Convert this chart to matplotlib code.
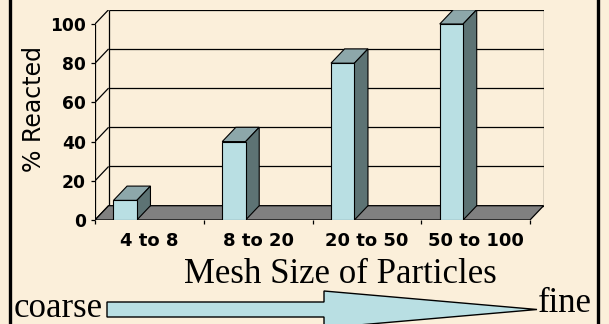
import matplotlib
matplotlib.use('Agg')
import matplotlib.pyplot as plt
from matplotlib.patches import Polygon

# particle size classes and how much of each reacted
categories = ['4 to 8', '8 to 20', '20 to 50', '50 to 100']
pct_reacted = [10, 40, 80, 100]
y_ticks = [0, 20, 40, 60, 80, 100]

BG = '#FBEFDA'
FRONT = '#B9DFE3'
TOP = '#8DA7AA'
SIDE = '#5D7374'
FLOOR = '#808080'

DX, DY = 0.125, 7.3        # depth of the fake 3D box (x in categories, y in %)
BAR_OFF, BAR_W = 0.17, 0.215
SERIF = 'Liberation Serif'


def draw_box(ax, n, ymax):
    """back wall, side wall grid and floor"""
    kw = dict(color='black', lw=0.9, zorder=1, solid_capstyle='butt')
    for v in y_ticks:
        ax.plot([DX, n + DX], [v + DY, v + DY], **kw)
        ax.plot([0, DX], [v, v + DY], **kw)
    ax.plot([DX, DX], [DY, ymax + DY], **kw)
    ax.plot([n + DX, n + DX], [DY, ymax + DY], **kw)
    ax.plot([0, 0], [0, ymax], **kw)
    floor = Polygon([(0, 0), (n, 0), (n + DX, DY), (DX, DY)], closed=True,
                    facecolor=FLOOR, edgecolor='black', lw=0.9, zorder=2)
    ax.add_patch(floor)


def draw_bars(ax, values):
    xs = [i + BAR_OFF for i in range(len(values))]
    for x0, v in zip(xs, values):
        x1 = x0 + BAR_W
        top = Polygon([(x0, v), (x1, v), (x1 + DX, v + DY), (x0 + DX, v + DY)],
                      closed=True, facecolor=TOP, edgecolor='black', lw=0.8, zorder=3)
        side = Polygon([(x1, 0), (x1 + DX, DY), (x1 + DX, v + DY), (x1, v)],
                       closed=True, facecolor=SIDE, edgecolor='black', lw=0.8, zorder=3)
        ax.add_patch(top)
        ax.add_patch(side)
    ax.bar(xs, values, width=BAR_W, align='edge', color=FRONT,
           edgecolor='black', lw=0.8, zorder=4)


fig = plt.figure(figsize=(6.09, 3.24), dpi=100)
fig.patch.set_facecolor(BG)

# pixel-space layer for the frame, arrow and side words
bg = fig.add_axes([0, 0, 1, 1])
bg.set_xlim(0, 609)
bg.set_ylim(324, 0)
bg.axis('off')

ax = fig.add_axes([95 / 609, 1 - 220 / 324, 448.6 / 609, 210.3 / 324])
ax.set_facecolor('none')
for s in ax.spines.values():
    s.set_visible(False)

n = len(categories)
ymax = y_ticks[-1]
ax.set_xlim(0, n + DX)
ax.set_ylim(0, ymax + DY)

draw_box(ax, n, ymax)
draw_bars(ax, pct_reacted)

ax.set_yticks(y_ticks)
ax.tick_params(axis='y', direction='out', length=3, width=0.9, pad=3.5, labelsize=12.3)
ax.set_xticks([i + 0.5 for i in range(n)], categories)
ax.set_xticks(range(n + 1), minor=True)
ax.tick_params(axis='x', which='major', length=0, pad=9, labelsize=13)
ax.tick_params(axis='x', which='minor', direction='out', length=3, width=0.9)
for lbl in ax.get_xticklabels() + ax.get_yticklabels():
    lbl.set_fontweight('bold')

ax.set_ylabel('% Reacted', fontsize=17, va='center')
ax.yaxis.set_label_coords(-0.136, 0.528)
ax.set_xlabel('Mesh Size of Particles', family=SERIF, fontsize=25, va='baseline')
ax.xaxis.set_label_coords(0.548, -0.30)

# coarse -> fine arrow
arrow = Polygon([(107, 302), (324, 302), (324, 291), (537, 309.5),
                 (324, 328), (324, 317), (107, 317)], closed=True,
                facecolor=FRONT, edgecolor='black', lw=1.0)
bg.add_patch(arrow)
bg.text(14, 317, 'coarse', family=SERIF, fontsize=25, ha='left', va='baseline')
bg.text(538, 312, 'fine', family=SERIF, fontsize=25, ha='left', va='baseline')

# side rules of the frame
bg.plot([10, 10], [0, 324], color='black', lw=2.4)
bg.plot([598, 598], [0, 324], color='black', lw=2.4)

fig.savefig('out.png', dpi=100, facecolor=BG)
plt.close(fig)
